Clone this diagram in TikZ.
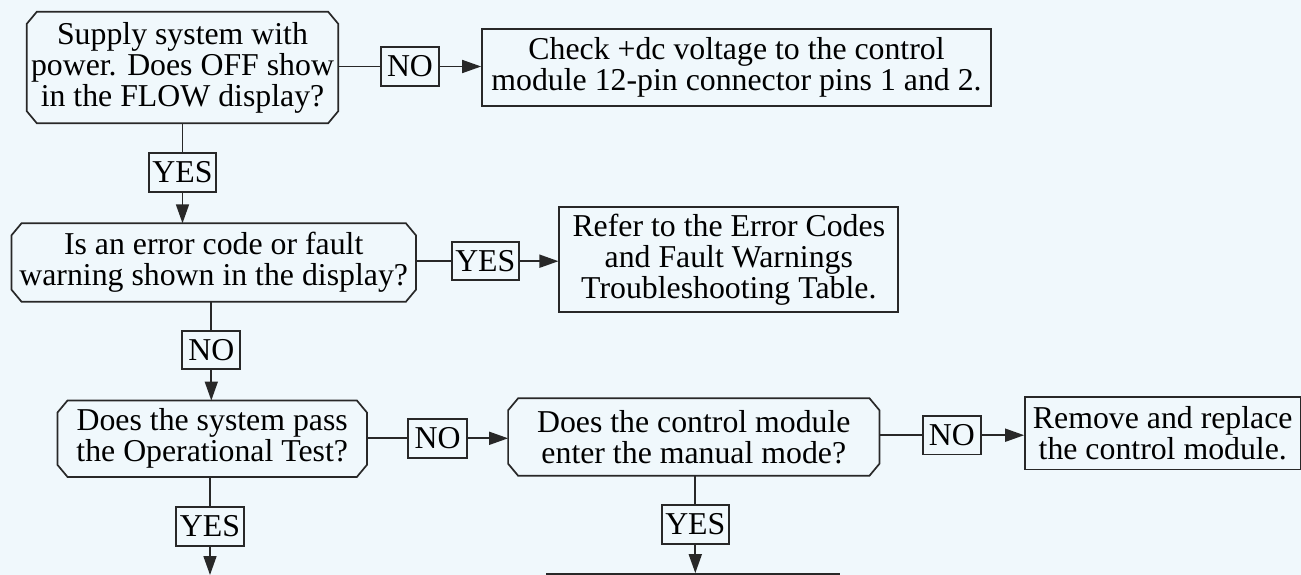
\documentclass[tikz,border=0pt]{standalone}
\usepackage{fontspec}
\setmainfont{Liberation Serif}
\usetikzlibrary{arrows.meta,calc}
\definecolor{bg}{RGB}{240,248,252}
\definecolor{ln}{RGB}{40,40,40}
\tikzset{
  base/.style={inner sep=0pt, align=center, font=\fontsize{31.8}{31}\selectfont, text=black},
  box/.style={base, draw=ln, line width=1.7pt},
  dec/.style={base},
  conn/.style={draw=ln, line width=1.7pt},
  arr/.style={conn, -{Triangle[length=19pt,width=13pt]}},
  decline/.style={draw=ln, line width=1.7pt, line join=miter}
}
\begin{document}
\begin{tikzpicture}[x=1pt,y=-1pt]
\fill[bg] (0,0) rectangle (1301,575);
\useasboundingbox (0,0) rectangle (1301,575);
\clip (0,0) rectangle (1301,575);

% decision nodes
\node[dec, minimum width=311pt, minimum height=111pt] (d1) at (182.5,67.5) {Supply system with\\power. Does OFF show\\in the FLOW display?};
\node[dec, minimum width=404pt, minimum height=78pt] (d2) at (213.7,262.5) {Is an error code or fault\\warning shown in the display?};
\node[dec, minimum width=309pt, minimum height=76pt] (d3) at (212.2,438.7) {Does the system pass\\the Operational Test?};
\node[dec, minimum width=371pt, minimum height=77pt] (d4) at (693.8,437) {Does the control module\\enter the manual mode?};

\foreach \n in {d1,d2,d3,d4}
  \draw[decline] ([xshift=10pt]\n.north west) -- ([xshift=-10pt]\n.north east)
    -- ([yshift=-12pt]\n.north east) -- ([yshift=12pt]\n.south east)
    -- ([xshift=-10pt]\n.south east) -- ([xshift=10pt]\n.south west)
    -- ([yshift=12pt]\n.south west) -- ([yshift=-12pt]\n.north west) -- cycle;

% process boxes
\node[box, minimum width=509pt, minimum height=77pt] (b2) at (736.5,67.5) {Check +dc voltage to the control\\module 12-pin connector pins 1 and 2.};
\node[box, minimum width=339pt, minimum height=105.6pt] (b3) at (728.8,259.5) {Refer to the Error Codes\\and Fault Warnings\\Troubleshooting Table.};
\node[box, minimum width=275.5pt, minimum height=72.6pt] (b5) at (1162.75,433.1) {Remove and replace\\the control module.};
\node[box, minimum width=292pt, minimum height=60pt] (b6) at (693,604) {};

% labels
\node[box, minimum width=58pt, minimum height=39pt] (no1) at (410,66.5) {NO};
\node[box, minimum width=67.5pt, minimum height=39pt] (yes1) at (182.5,172.5) {YES};
\node[box, minimum width=67.3pt, minimum height=38pt] (yes2) at (485.3,261.2) {YES};
\node[box, minimum width=58pt, minimum height=38.6pt] (no2) at (211.3,350) {NO};
\node[box, minimum width=58.4pt, minimum height=38.7pt] (no4) at (437.5,438.3) {NO};
\node[box, minimum width=58.3pt, minimum height=38.3pt] (no3) at (951.8,435.2) {NO};
\node[box, minimum width=68pt, minimum height=39.3pt] (yes3) at (210,526.3) {YES};
\node[box, minimum width=67.3pt, minimum height=39pt] (yes4) at (695.3,524.5) {YES};
\coordinate (out3) at (210,575);

% connectors
\draw[conn] (d1.east |- no1.west) -- (no1.west);
\draw[arr] (no1.east) -- (b2.west |- no1.east);
\draw[conn] (d1.south) -- (yes1.north);
\draw[arr] (yes1.south) -- (yes1.south |- d2.north);
\draw[conn] (d2.east |- yes2.west) -- (yes2.west);
\draw[arr] (yes2.east) -- (b3.west |- yes2.east);
\draw[conn] (no2.north |- d2.south) -- (no2.north);
\draw[arr] (no2.south) -- (no2.south |- d3.north);
\draw[conn] (d3.east |- no4.west) -- (no4.west);
\draw[arr] (no4.east) -- (d4.west |- no4.east);
\draw[conn] (d4.east |- no3.west) -- (no3.west);
\draw[arr] (no3.east) -- (b5.west |- no3.east);
\draw[conn] (yes3.north |- d3.south) -- (yes3.north);
\draw[arr] (yes3.south) -- (out3);
\draw[conn] (yes4.north |- d4.south) -- (yes4.north);
\draw[arr] (yes4.south) -- (yes4.south |- b6.north);
\end{tikzpicture}
\end{document}
